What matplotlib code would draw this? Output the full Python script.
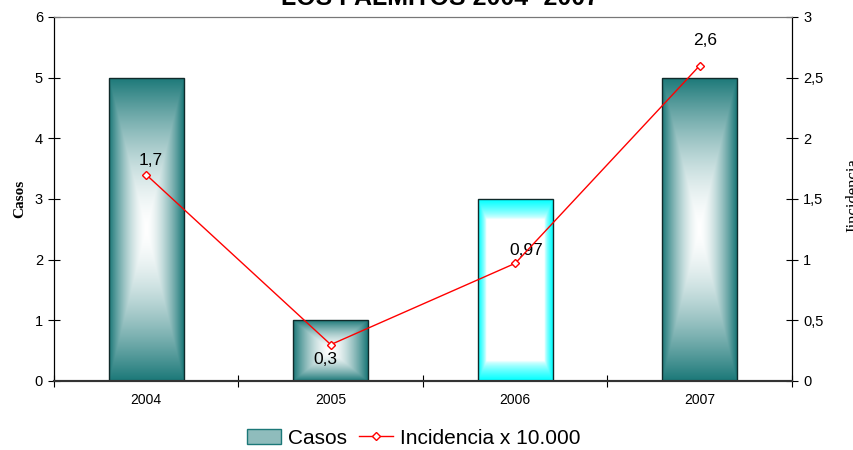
import matplotlib
matplotlib.use("Agg")
import matplotlib.pyplot as plt
import numpy as np
from matplotlib.colors import to_rgb
from matplotlib.lines import Line2D
from matplotlib.patches import Patch

# Datos
years = ["2004", "2005", "2006", "2007"]
casos = [5, 1, 3, 5]
incidencia = [1.7, 0.3, 0.97, 2.6]
etiquetas = ["1,7", "0,3", "0,97", "2,6"]
# desplazamiento de etiquetas (puntos)
offsets = [(3, 10), (-4, -11), (8, 9), (4, 18)]

_TEAL = "#1b7878"
_CYAN = "#00ffff"
_RED = "#ff0000"

plt.rcParams["font.family"] = ["Liberation Sans", "DejaVu Sans"]

fig = plt.figure(figsize=(8.54, 4.5), dpi=100)
ax = fig.add_axes([54 / 854, 1 - 381 / 450, (792 - 54) / 854, (381 - 17) / 450])

x = np.arange(len(years))
width = 0.405


def gradient_fill(ax, bar, color, power, frame):
    """Relleno degradado desde el centro (blanco) hacia el borde."""
    x0, y0 = bar.get_x(), bar.get_y()
    w, h = bar.get_width(), bar.get_height()
    u = np.linspace(-1, 1, 120)
    v = np.linspace(-1, 1, 300)
    U, V = np.meshgrid(u, v)
    t = np.maximum(np.abs(U), np.abs(V))
    if frame:
        t = np.clip((t - 0.78) / 0.22, 0, 1)
    t = t ** power
    c = np.array(to_rgb(color))
    img = (1 - t[..., None]) * 1.0 + t[..., None] * c
    im = ax.imshow(img, extent=[x0, x0 + w, y0, y0 + h], origin="lower",
                   aspect="auto", zorder=2, interpolation="bilinear")
    im.set_clip_path(bar)


bars = ax.bar(x, casos, width=width, facecolor="none", edgecolor="#102a2a",
              linewidth=1.0, zorder=3)
for i, b in enumerate(bars):
    if years[i] == "2006":
        gradient_fill(ax, b, _CYAN, 0.7, True)
    else:
        gradient_fill(ax, b, _TEAL, 1.6, False)

ax.set_xlim(-0.5, 3.5)
ax.set_ylim(0, 6)
ax.set_yticks(range(0, 7))
ax.set_xticks(np.arange(-0.5, 4, 1))
ax.set_xticklabels([])
ax.set_xticks(x, minor=True)
ax.set_xticklabels(years, minor=True, fontsize=10)
ax.tick_params(axis="x", which="minor", length=0, pad=9)
ax.tick_params(axis="x", which="major", direction="inout", length=8)
ax.tick_params(axis="y", direction="inout", length=8, labelsize=10.5, pad=4)
ax.set_ylabel("Casos", family=["Liberation Serif", "DejaVu Serif"],
              fontweight="bold", fontsize=11, labelpad=6)

ax.spines["top"].set_color("#777777")
ax.spines["bottom"].set_color("#333333")
ax.spines["bottom"].set_linewidth(1.5)

ax2 = ax.twinx()
ax2.plot(x, incidencia, color=_RED, lw=1, marker="D", ms=4,
         markerfacecolor="white", markeredgecolor=_RED, markeredgewidth=1,
         zorder=5)
for xi, yi, lab, off in zip(x, incidencia, etiquetas, offsets):
    ax2.annotate(lab, (xi, yi), xytext=off, textcoords="offset points",
                 ha="center", va="center", fontsize=12.5)
ax2.set_ylim(0, 3)
ax2.set_yticks([0, 0.5, 1, 1.5, 2, 2.5, 3])
ax2.set_yticklabels(["0", "0,5", "1", "1,5", "2", "2,5", "3"])
ax2.tick_params(axis="y", direction="inout", length=8, labelsize=10.5, pad=4)
ax2.spines["top"].set_color("#777777")
ax2.spines["bottom"].set_color("#333333")
ax2.spines["bottom"].set_linewidth(1.5)

fig.text(845 / 854, 1 - 195 / 450, "Iincidencia", rotation=90,
         family=["Liberation Serif", "DejaVu Serif"], fontsize=12,
         ha="left", va="center")

fig.text(440 / 854, 1 - 5 / 450, "LOS PALMITOS 2004- 2007", ha="center",
         va="baseline", fontsize=18, fontweight="bold")

handles = [
    Patch(facecolor="#8fbcbc", edgecolor=_TEAL, label="Casos"),
    Line2D([0], [0], color=_RED, lw=1, marker="D", ms=4,
           markerfacecolor="white", label="Incidencia x 10.000"),
]
fig.legend(handles=handles, loc="center", bbox_to_anchor=(414 / 854, 1 - 438 / 450),
           ncol=2, frameon=False, fontsize=15, handlelength=1.6,
           columnspacing=0.6, handletextpad=0.35)

fig.savefig("out.png", dpi=100)
